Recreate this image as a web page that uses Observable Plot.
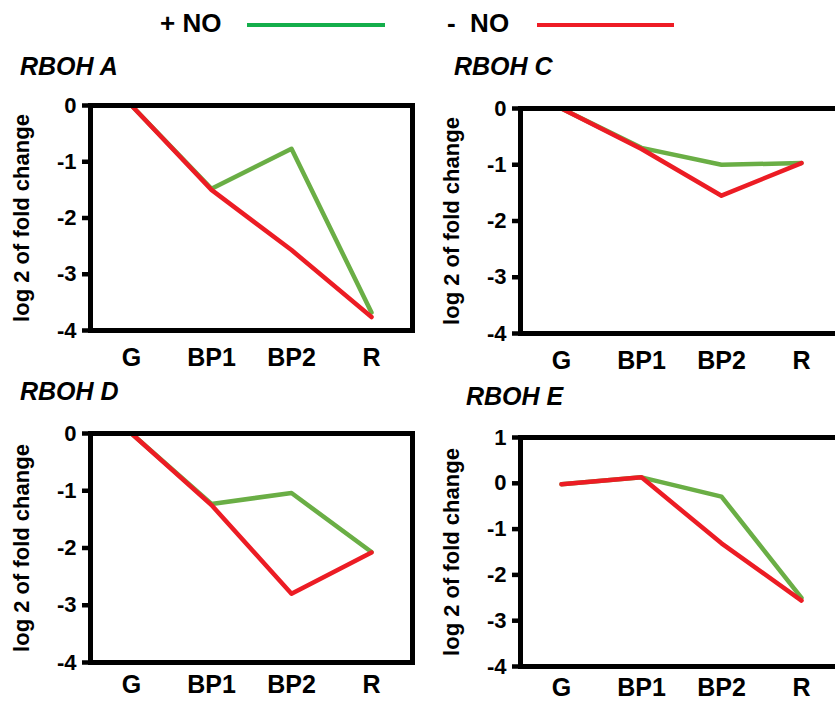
<!DOCTYPE html>
<html>
<head>
<meta charset="utf-8">
<script src="https://cdn.jsdelivr.net/npm/d3@7"></script>
<script src="https://cdn.jsdelivr.net/npm/@observablehq/plot@0.6"></script>
<style>
  body { margin: 0; background: #fff; font-family: "Liberation Sans", Arial, sans-serif; }
  #root { position: relative; width: 835px; height: 702px; overflow: hidden; background: #fff; }
  .abs { position: absolute; }
  .title { font-size: 25px; font-weight: bold; font-style: italic; line-height: 25px; white-space: pre; color: #000; }
  .leg { font-size: 26px; font-weight: bold; line-height: 26px; white-space: pre; color: #000; }
  .sw { height: 4px; }
</style>
</head>
<body>
<div id="root"></div>
<script>
// ---- data ----
const stages = ["G", "BP1", "BP2", "R"];
const seriesNames = ["+ NO", "-  NO"];
const geneTitles = ["RBOH A", "RBOH C", "RBOH D", "RBOH E"];

const plusNO_A  = [0, -1.48, -0.77, -3.68];
const minusNO_A = [0, -1.50, -2.57, -3.76];
const plusNO_C  = [0, -0.70, -1.00, -0.97];
const minusNO_C = [0, -0.72, -1.55, -0.97];
const plusNO_D  = [0, -1.23, -1.04, -2.07];
const minusNO_D = [0, -1.25, -2.80, -2.08];
const plusNO_E  = [-0.02, 0.13, -0.29, -2.50];
const minusNO_E = [-0.02, 0.13, -1.31, -2.56];

const yTicks_A = [0, -1, -2, -3, -4];
const yTicks_C = [0, -1, -2, -3, -4];
const yTicks_D = [0, -1, -2, -3, -4];
const yTicks_E = [1, 0, -1, -2, -3, -4];

const yDomain_A = [-4, 0];
const yDomain_C = [-4, 0];
const yDomain_D = [-4, 0];
const yDomain_E = [-4, 1];

const yLabel = "log 2 of fold change";

const greenLine = "#6aae45";
const redLine = "#ec1c24";
const greenLegend = "#14ae4b";
const redLegend = "#ee1c25";
const FONT = "'Liberation Sans', Arial, sans-serif";

const root = document.getElementById("root");

function table(plus, minus) {
  return stages.flatMap((s, i) => [
    {stage: s, value: plus[i], series: "plus"},
    {stage: s, value: minus[i], series: "minus"}
  ]);
}

function panel({plus, minus, ticks, domain, left, top, plotH, width, xPad}) {
  const data = table(plus, minus);
  const marginTop = 25, marginLeft = 90, marginBottom = 50;
  const chart = Plot.plot({
    width: width,
    height: marginTop + plotH + marginBottom,
    marginTop, marginLeft, marginBottom,
    marginRight: width - marginLeft - 322,
    style: {fontFamily: FONT, background: "transparent", overflow: "visible", color: "#000"},
    x: {type: "point", domain: stages, padding: 0.5},
    y: {domain: domain},
    marks: [
      Plot.line(data.filter(d => d.series === "plus"), {x: "stage", y: "value", stroke: greenLine, strokeWidth: 4.5}),
      Plot.line(data.filter(d => d.series === "minus"), {x: "stage", y: "value", stroke: redLine, strokeWidth: 4.5}),
      Plot.frame({stroke: "#000", strokeWidth: 5}),
      Plot.axisY({ticks: ticks, tickSize: 8, strokeWidth: 4.5, tickPadding: 6, fontSize: 22, fontWeight: "bold",
                  tickFormat: d => String(d), label: null}),
      Plot.axisY({ticks: [], tickSize: 0, label: yLabel, labelAnchor: "center", labelArrow: "none",
                  labelOffset: 77, fontSize: 22, fontWeight: "bold"}),
      Plot.axisX({tickSize: 0, tickPadding: xPad, fontSize: 25, fontWeight: "bold", label: null})
    ]
  });
  chart.classList.add("abs");
  chart.style.left = left + "px";
  chart.style.top = top + "px";
  root.appendChild(chart);
}

function addTitle(text, left, baseline) {
  const d = document.createElement("div");
  d.className = "abs title";
  d.textContent = text;
  d.style.left = left + "px";
  d.style.top = (baseline - 21) + "px";
  root.appendChild(d);
}

// legend
function addLegend(text, left, color, lineLeft, lineRight) {
  const t = document.createElement("div");
  t.className = "abs leg";
  t.textContent = text;
  t.style.left = left + "px";
  t.style.top = (32 - 22) + "px";
  root.appendChild(t);
  const s = document.createElement("div");
  s.className = "abs sw";
  s.style.left = lineLeft + "px";
  s.style.width = (lineRight - lineLeft) + "px";
  s.style.top = "23px";
  s.style.background = color;
  root.appendChild(s);
}
addLegend(seriesNames[0], 160, greenLegend, 247, 385);
addLegend(seriesNames[1], 447, redLegend, 537, 674);

addTitle(geneTitles[0], 20, 75);
addTitle(geneTitles[1], 454, 75);
addTitle(geneTitles[2], 20, 400);
addTitle(geneTitles[3], 466, 405);

panel({plus: plusNO_A, minus: minusNO_A, ticks: yTicks_A, domain: yDomain_A, left: 0, top: 80, plotH: 225, width: 430, xPad: 18});
panel({plus: plusNO_C, minus: minusNO_C, ticks: yTicks_C, domain: yDomain_C, left: 430, top: 83, plotH: 225, width: 430, xPad: 18});
panel({plus: plusNO_D, minus: minusNO_D, ticks: yTicks_D, domain: yDomain_D, left: 0, top: 408, plotH: 229, width: 430, xPad: 13});
panel({plus: plusNO_E, minus: minusNO_E, ticks: yTicks_E, domain: yDomain_E, left: 430, top: 412, plotH: 229, width: 430, xPad: 12});
</script>
</body>
</html>
